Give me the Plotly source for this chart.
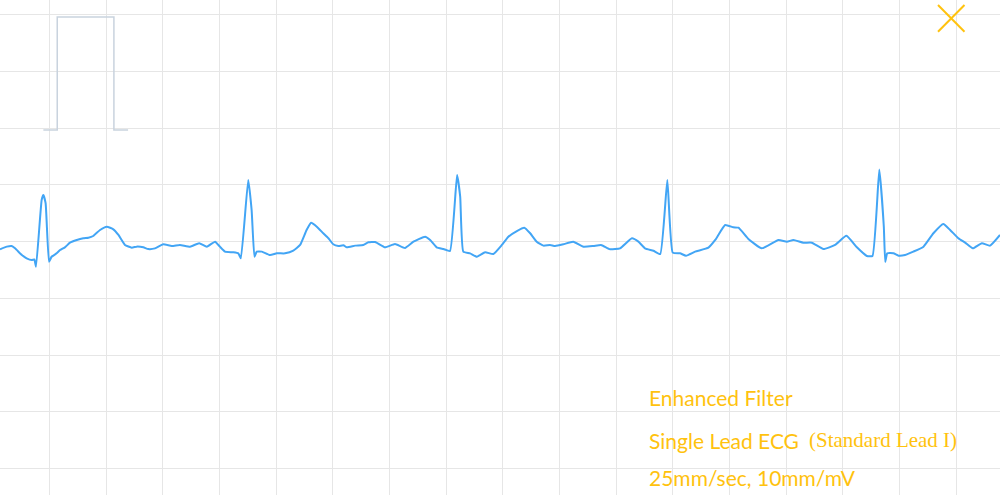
import plotly.graph_objects as go

# ECG trace: time (s) and amplitude (mV), 25 mm/s, 10 mm/mV
ecg_t = [0.000, 0.024, 0.041, 0.053, 0.077, 0.094, 0.112, 0.121, 0.127, 0.147, 0.153, 0.161, 0.173, 0.182,
         0.200, 0.212, 0.229, 0.247, 0.271, 0.294, 0.312, 0.329, 0.353, 0.377, 0.400, 0.418, 0.441, 0.465,
         0.482, 0.506, 0.523, 0.547, 0.576, 0.606, 0.635, 0.671, 0.703, 0.730, 0.759, 0.776, 0.794, 0.823,
         0.841, 0.850, 0.876, 0.888, 0.898, 0.906, 0.924, 0.953, 0.977, 1.006, 1.035, 1.059, 1.082, 1.098,
         1.118, 1.141, 1.159, 1.176, 1.194, 1.212, 1.224, 1.253, 1.282, 1.300, 1.324, 1.359, 1.394, 1.429,
         1.459, 1.500, 1.518, 1.541, 1.565, 1.588, 1.613, 1.624, 1.635, 1.659, 1.683, 1.712, 1.741, 1.771,
         1.794, 1.824, 1.850, 1.871, 1.894, 1.918, 1.941, 1.959, 1.988, 2.023, 2.059, 2.094, 2.121, 2.153,
         2.188, 2.230, 2.253, 2.276, 2.306, 2.330, 2.355, 2.374, 2.400, 2.421, 2.453, 2.500, 2.524, 2.559,
         2.588, 2.606, 2.641, 2.688, 2.747, 2.777, 2.800, 2.835, 2.865, 2.906, 2.947, 2.987, 3.024, 3.059,
         3.079, 3.103, 3.119, 3.124, 3.131, 3.153, 3.171, 3.194, 3.223, 3.259, 3.294, 3.329, 3.353, 3.382,
         3.406, 3.433, 3.465, 3.494, 3.529]
ecg_mv = [-0.067, -0.044, -0.038, -0.059, -0.118, -0.147, -0.162, -0.156, -0.221, 0.368, 0.412, 0.339, -0.177, -0.133,
          -0.103, -0.074, -0.050, -0.009, 0.015, 0.030, 0.035, 0.050, 0.103, 0.132, 0.109, 0.059, -0.029, -0.053,
          -0.044, -0.050, -0.065, -0.059, -0.023, -0.038, -0.029, -0.044, -0.014, -0.044, 0.000, -0.044, -0.088, -0.094,
          -0.103, -0.147, 0.545, 0.279, -0.133, -0.088, -0.088, -0.118, -0.103, -0.103, -0.080, -0.029, 0.103, 0.167,
          0.132, 0.074, 0.030, -0.023, -0.038, -0.032, -0.050, -0.035, -0.029, -0.006, -0.003, -0.050, -0.021, -0.056,
          0.000, 0.044, 0.015, -0.050, -0.065, -0.082, 0.588, 0.397, -0.088, -0.103, -0.133, -0.094, -0.109, -0.029,
          0.044, 0.094, 0.123, 0.074, 0.000, -0.035, -0.029, -0.038, -0.023, 0.000, -0.044, -0.038, -0.029, -0.067,
          -0.059, 0.030, 0.000, -0.059, -0.080, -0.109, 0.545, -0.097, -0.103, -0.124, -0.088, -0.053, 0.015, 0.147,
          0.127, 0.123, 0.024, -0.059, 0.015, 0.000, 0.015, -0.009, -0.009, -0.065, -0.029, 0.052, -0.050, -0.126,
          -0.126, 0.636, 0.132, -0.179, -0.103, -0.103, -0.124, -0.118, -0.088, -0.044, 0.074, 0.156, 0.103, 0.030,
          -0.009, -0.059, -0.014, -0.035, 0.059]

# 1 mV calibration pulse
cal_t = [0.153, 0.202, 0.202, 0.402, 0.402, 0.452]
cal_mv = [0.985, 0.985, 1.982, 1.982, 0.985, 0.985]

info_lines = ["Enhanced Filter", "Single Lead ECG", "25mm/sec, 10mm/mV"]
lead_note = "(Standard Lead I)"

GOLD = "#FFC20E"
GRID = "#e6e6e6"

fig = go.Figure()
fig.add_trace(go.Scatter(x=cal_t, y=cal_mv, mode="lines",
                         line=dict(color="#c9d3de", width=1.5), hoverinfo="skip"))
fig.add_trace(go.Scatter(x=ecg_t, y=ecg_mv, mode="lines",
                         line=dict(color="#42A5F5", width=2, shape="spline", smoothing=0.4)))

ann_y = [0.196, 0.110, 0.036]
for txt, yy in zip(info_lines, ann_y):
    fig.add_annotation(x=0.647, y=yy, xref="paper", yref="paper", text=txt, showarrow=False,
                       xanchor="left", yanchor="middle",
                       font=dict(family="Lato", size=21, color=GOLD))
fig.add_annotation(x=0.807, y=0.112, xref="paper", yref="paper", text=lead_note, showarrow=False,
                   xanchor="left", yanchor="middle",
                   font=dict(family="Liberation Serif", size=21, color=GOLD))

# close icon
fig.add_shape(type="line", xref="paper", yref="paper", x0=0.938, y0=0.990, x1=0.9645, y1=0.936,
              line=dict(color=GOLD, width=2))
fig.add_shape(type="line", xref="paper", yref="paper", x0=0.9645, y0=0.990, x1=0.938, y1=0.936,
              line=dict(color=GOLD, width=2))

fig.update_layout(
    width=1000, height=495, margin=dict(l=0, r=0, t=0, b=0),
    paper_bgcolor="white", plot_bgcolor="white", showlegend=False,
    xaxis=dict(range=[0, 3.529], tick0=0.1741, dtick=0.2, showgrid=True, gridcolor=GRID, gridwidth=1,
               showticklabels=False, zeroline=False, ticks=""),
    yaxis=dict(range=[-2.235, 2.132], tick0=0, dtick=0.5, showgrid=True, gridcolor=GRID, gridwidth=1,
               showticklabels=False, zeroline=False, ticks=""),
)
fig.write_html("out.html", config={"displayModeBar": False},
               post_script="document.body.style.margin='0';document.body.style.overflow='hidden';")
